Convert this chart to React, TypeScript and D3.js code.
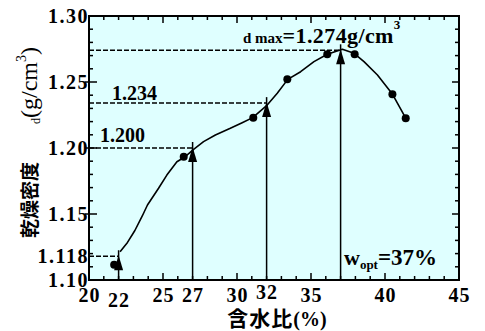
import React from "react";
import * as d3 from "d3";

const xTickValues = [20, 22, 25, 27, 30, 32, 35, 40, 45];
const xTickLabels = ["20", "22", "25", "27", "30", "32", "35", "40", "45"];
const yTickValues = [1.1, 1.118, 1.15, 1.2, 1.25, 1.3];
const yTickLabels = ["1.10", "1.118", "1.15", "1.20", "1.25", "1.30"];

const pointW = [21.7, 26.4, 31.1, 33.4, 36.1, 37.95, 40.5, 41.4];
const pointRho = [1.1115, 1.1934, 1.223, 1.252, 1.271, 1.271, 1.2407, 1.2225];

const curveW = [22.1, 22.6, 23.1, 23.6, 23.95, 24.7, 25.26, 25.94, 26.5, 27.07, 27.74, 28.54, 29.55, 30.35, 31.06, 32.04, 32.72, 33.43, 34.3, 35.2, 36.1, 37.12, 37.91, 38.58, 39.49, 40.51, 41.41];
const curveRho = [1.1214, 1.1285, 1.1375, 1.1485, 1.1568, 1.1695, 1.1795, 1.1896, 1.1934, 1.199, 1.2048, 1.2098, 1.2149, 1.2192, 1.223, 1.2325, 1.2414, 1.252, 1.2578, 1.2654, 1.271, 1.2748, 1.2717, 1.2654, 1.2553, 1.2407, 1.2225];

const refW = [22, 27, 32, 37];
const refRho = [1.118, 1.2, 1.234, 1.274];

const SERIF = "'Liberation Serif', 'Times New Roman', serif";
const CJK = "'Noto Sans CJK JP', 'Noto Sans CJK SC', sans-serif";

export default function App() {
  const W = 485, H = 331;
  const x = d3.scaleLinear().domain([20, 45]).range([89, 459]);
  const y = d3.scaleLinear().domain([1.1, 1.3]).range([280, 16]);
  const [x0, x1] = x.range();
  const [yb, yt] = y.range();

  const line = d3.line<number>().x((_, i) => x(curveW[i])).y((_, i) => y(curveRho[i]));
  const curvePath = line(curveW.map((_, i) => i)) || "";

  const xMinor = d3.range(21, 45, 1);
  const yMinor = d3.range(0, 20).map((i) => 1.1 + i * 0.01).filter((v) => v > 1.1001);

  const labelDy: Record<string, number> = { "22": 5, "32": -3 };

  return (
    <svg width={W} height={H} style={{ position: "absolute", left: 0, top: 0 }}>
      <rect x={0} y={0} width={W} height={H} fill="#ffffff" />
      <rect x={x0} y={yt} width={x1 - x0} height={yb - yt} fill="#dfffff" />

      {xMinor.map((v) => {
        const major = v % 5 === 0;
        const len = major ? 7 : 4;
        return (
          <g key={"xt" + v}>
            <line x1={x(v)} x2={x(v)} y1={yb} y2={yb - len} stroke="#000" strokeWidth={1.5} />
            <line x1={x(v)} x2={x(v)} y1={yt} y2={yt + len} stroke="#000" strokeWidth={1.5} />
          </g>
        );
      })}
      {yMinor.map((v, i) => {
        const major = Math.abs(v * 100 - Math.round(v * 20) * 5) < 0.01;
        return (
          <g key={"yt" + i}>
            <line x1={major ? x0 - 4 : x0} x2={x0 + (major ? 8 : 4)} y1={y(v)} y2={y(v)} stroke="#000" strokeWidth={1.5} />
            <line x1={x1} x2={x1 - (major ? 7 : 4)} y1={y(v)} y2={y(v)} stroke="#000" strokeWidth={1.5} />
          </g>
        );
      })}

      {refW.map((w, i) => (
        <line key={"d" + i} x1={x0} x2={x(w)} y1={y(refRho[i])} y2={y(refRho[i])} stroke="#000" strokeWidth={1.5} strokeDasharray="5,2" />
      ))}

      {refW.map((w, i) => {
        const cx = x(w);
        const ty = y(refRho[i]) - 1;
        return (
          <g key={"a" + i}>
            <line x1={cx} x2={cx} y1={yb} y2={ty - 5} stroke="#000" strokeWidth={1.5} />
            <path d={`M${cx},${ty} L${cx - 4.5},${ty + 15} L${cx + 4.5},${ty + 15} Z`} fill="#000" />
          </g>
        );
      })}

      <path d={curvePath} fill="none" stroke="#000" strokeWidth={1.6} strokeLinejoin="round" />
      {pointW.map((w, i) => (
        <circle key={"p" + i} cx={x(w)} cy={y(pointRho[i])} r={4} fill="#000" />
      ))}

      <rect x={x0} y={yt} width={x1 - x0} height={yb - yt} fill="none" stroke="#000" strokeWidth={2} />

      {yTickValues.map((v, i) => (
        <text key={"yl" + i} x={x0} y={y(v)} dy="0.35em" textAnchor="end" fontFamily={SERIF} fontWeight="bold" fontSize={20} letterSpacing={1.5}>
          {yTickLabels[i]}
        </text>
      ))}
      {xTickValues.map((v, i) => (
        <text key={"xl" + i} x={x(v) + 0.5} y={295 + (labelDy[xTickLabels[i]] || 0)} dy="0.35em" textAnchor="middle" fontFamily={SERIF} fontWeight="bold" fontSize={20} letterSpacing={1}>
          {xTickLabels[i]}
        </text>
      ))}

      <text x={243} y={43} fontFamily={SERIF} fontWeight="bold">
        <tspan fontSize={15}>d max</tspan>
        <tspan fontSize={22} letterSpacing={0.4}>=1.274g/cm</tspan>
        <tspan fontSize={13} dy={-14}>3</tspan>
      </text>
      <text x={112} y={100} fontFamily={SERIF} fontWeight="bold" fontSize={20}>1.234</text>
      <text x={100} y={142} fontFamily={SERIF} fontWeight="bold" fontSize={20}>1.200</text>
      <text x={344} y={265} fontFamily={SERIF} fontWeight="bold">
        <tspan fontSize={22}>w</tspan>
        <tspan fontSize={13} dy={4}>opt</tspan>
        <tspan fontSize={23} dy={-4}>=37%</tspan>
      </text>

      <text x={277} y={326} textAnchor="middle" fontWeight="bold">
        <tspan fontFamily={CJK} fontSize={21} letterSpacing={1}>含水比</tspan>
        <tspan fontFamily={SERIF} fontSize={20}>(%)</tspan>
      </text>

      <text transform="translate(37,238) rotate(-90)" fontFamily={CJK} fontWeight="bold" fontSize={19}>乾燥密度</text>
      <text transform="translate(37,124) rotate(-90)" fontFamily={SERIF} fontSize={24}>
        <tspan fontSize={12} dy={3}>d</tspan>
        <tspan dy={-3}>(g/cm</tspan>
        <tspan fontSize={14} dy={-11}>3</tspan>
        <tspan dy={11}>)</tspan>
      </text>
    </svg>
  );
}
